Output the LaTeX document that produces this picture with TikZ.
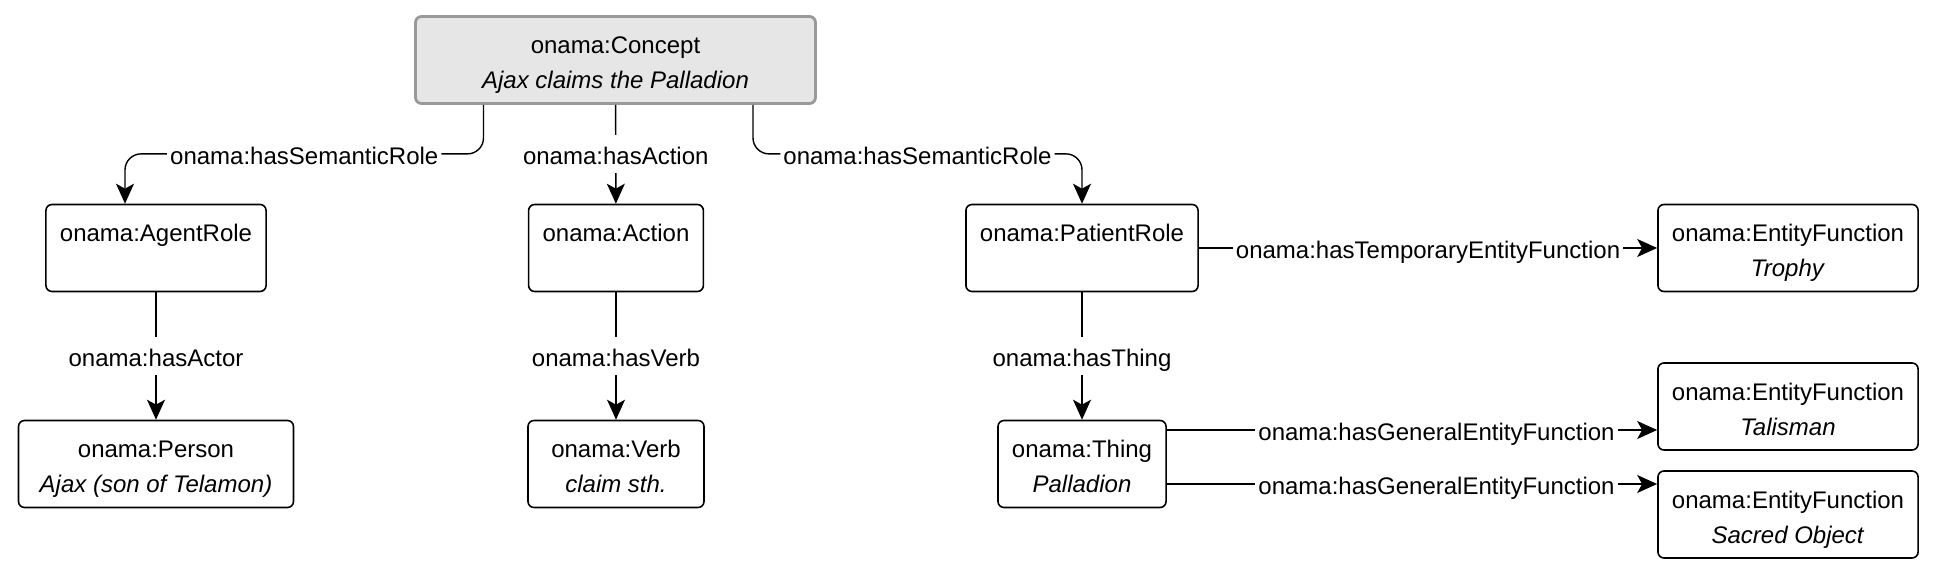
\documentclass[tikz,border=0pt]{standalone}
\usepackage{fontspec}
\setmainfont{Liberation Sans}
\usetikzlibrary{arrows.meta}
\definecolor{conceptfill}{HTML}{E6E6E6}
\definecolor{conceptline}{HTML}{999999}
\begin{document}
\begin{tikzpicture}[x=0.5pt,y=-0.5pt,>={Stealth[length=10pt,width=9pt,inset=2.5pt]}, font=\fontsize{12}{17.5}\selectfont, line join=round]
		\tikzset{box/.style={draw, line width=0.8pt, rounded corners=3pt, align=center, inner xsep=7pt, minimum height=43.5pt, text height=29.5pt, text depth=0.5pt}}
		\tikzset{concept/.style={box, fill=conceptfill, draw=conceptline, line width=1.4pt, minimum width=200pt}}
		\tikzset{rel/.style={->, line width=0.7pt}, rellabel/.style={fill=white, inner xsep=1.5pt, inner ysep=3.2pt, text height=11.5pt, text depth=1pt}}
		\useasboundingbox (0,0) rectangle (1936,576);
		% nodes
		\node[concept] (concept) at (615.5,60) {onama:Concept\\\textit{Ajax claims the Palladion}};
		\node[box] (agentrole) at (156,248) {onama:AgentRole\\\mbox{}};
		\node[box] (action) at (616,248) {onama:Action\\\mbox{}};
		\node[box] (patientrole) at (1082,248) {onama:PatientRole\\\mbox{}};
		\node[box] (trophy) at (1788,248) {onama:EntityFunction\\\textit{Trophy}};
		\node[box, minimum width=137.5pt] (person) at (156,464) {onama:Person\\\textit{Ajax (son of Telamon)}};
		\node[box, minimum width=88pt] (verb) at (616,464) {onama:Verb\\\textit{claim sth.}};
		\node[box] (thing) at (1082,464) {onama:Thing\\\textit{Palladion}};
		\node[box] (talisman) at (1788,406.5) {onama:EntityFunction\\\textit{Talisman}};
		\node[box] (sacred) at (1788,514.5) {onama:EntityFunction\\\textit{Sacred Object}};
		% relations
		\draw[rel, rounded corners=8pt] ([xshift=-66pt]concept.south) -- ++(0,49) -| node[rellabel,pos=.25]{onama:hasSemanticRole} ([xshift=-15.5pt]agentrole.north);
		\draw[rel] (concept) -- node[rellabel]{onama:hasAction} (action);
		\draw[rel, rounded corners=8pt] ([xshift=68.75pt]concept.south) -- ++(0,49) -| node[rellabel,pos=.25]{onama:hasSemanticRole} (patientrole.north);
		\draw[rel] (agentrole) -- node[rellabel]{onama:hasActor} (person);
		\draw[rel] (action) -- node[rellabel]{onama:hasVerb} (verb);
		\draw[rel] (patientrole) -- node[rellabel]{onama:hasThing} (thing);
		\draw[rel] (patientrole) -- node[rellabel]{onama:hasTemporaryEntityFunction} (trophy);
		\coordinate (thingtop) at ([yshift=17pt]thing.east);
		\coordinate (thingbottom) at ([yshift=-10pt]thing.east);
		\draw[rel] (thingtop) -- node[rellabel,pos=.55]{onama:hasGeneralEntityFunction} (thingtop -| talisman.west);
		\draw[rel] (thingbottom) -- node[rellabel,pos=.55]{onama:hasGeneralEntityFunction} (thingbottom -| sacred.west);
\end{tikzpicture}
\end{document}
